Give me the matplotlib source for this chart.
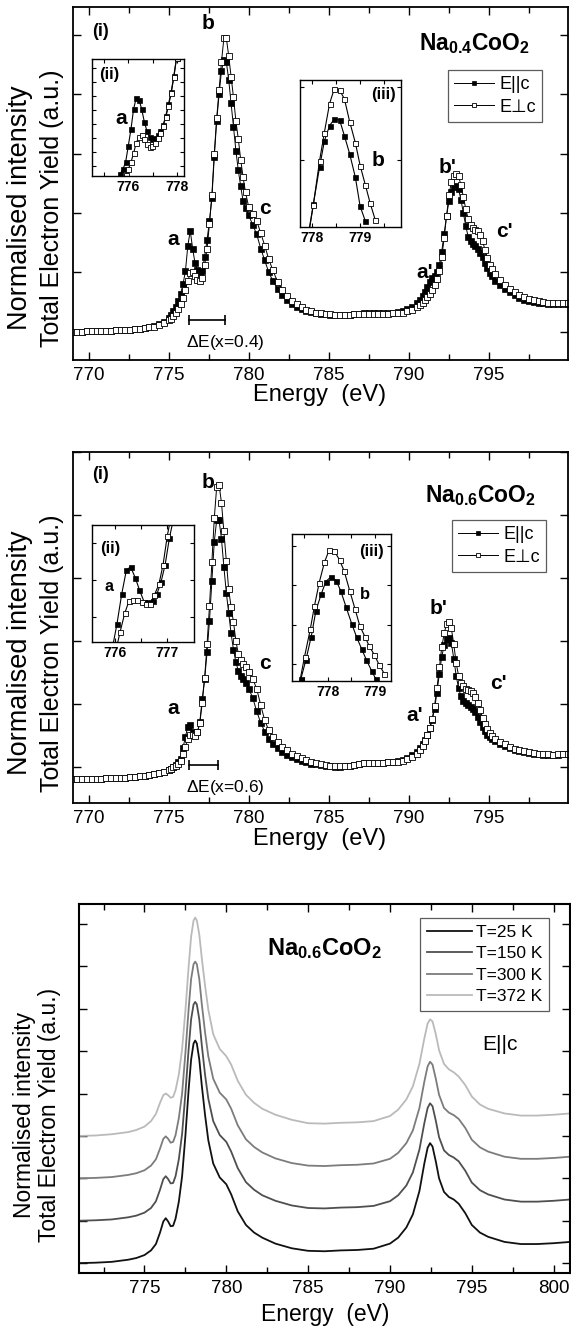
import matplotlib
matplotlib.use("Agg")
import matplotlib.pyplot as plt
from matplotlib.ticker import MultipleLocator, FixedLocator

plt.rcParams['font.family'] = ['Liberation Sans', 'DejaVu Sans']
plt.rcParams['mathtext.fontset'] = 'custom'
plt.rcParams['mathtext.rm'] = 'Liberation Sans'
plt.rcParams['mathtext.bf'] = 'Liberation Sans:bold'

# ---- data: panels (a) and (b), polarisation dependence ----
energy = [
    769.0, 769.3, 769.6, 769.9, 770.2, 770.5, 770.8, 771.1, 771.4, 771.7, 772.0, 772.3, 772.6, 772.9,
    773.2, 773.5, 773.8, 774.1, 774.4, 774.7, 775.0,
    775.15, 775.3, 775.45, 775.6, 775.75, 775.9, 776.05, 776.2, 776.35, 776.5, 776.65, 776.8, 776.95,
    777.1, 777.25, 777.4, 777.55, 777.7, 777.85, 778.0, 778.15, 778.3, 778.45, 778.6, 778.75, 778.9,
    779.05, 779.2, 779.35, 779.5, 779.65, 779.8,
    780.0, 780.25, 780.5, 780.75, 781.0, 781.25, 781.5, 781.8, 782.1, 782.4, 782.7, 783.0, 783.3, 783.6,
    783.9, 784.2, 784.5, 784.8, 785.1, 785.4, 785.7, 786.0, 786.3, 786.6, 786.9, 787.2, 787.5, 787.8,
    788.1, 788.4, 788.7, 789.0, 789.3, 789.6, 789.9, 790.2, 790.5,
    790.7, 790.85, 791.0, 791.15, 791.3, 791.45, 791.6, 791.75, 791.9, 792.05, 792.2, 792.35, 792.5,
    792.65, 792.8, 792.95, 793.1, 793.25, 793.4, 793.55, 793.7, 793.85, 794.0, 794.15, 794.3, 794.45,
    794.6, 794.75, 794.9, 795.05, 795.2,
    795.4, 795.7, 796.0, 796.3, 796.6, 796.9, 797.2, 797.5, 797.8, 798.1, 798.4, 798.7, 799.0, 799.3,
    799.6, 799.9,
]

na04_par = [
    0.00, 0.00, 0.00, 0.005, 0.005, 0.01, 0.01, 0.01, 0.015, 0.02, 0.02, 0.025, 0.03, 0.04, 0.045, 0.055,
    0.07, 0.09, 0.12, 0.16, 0.23,
    0.28, 0.34, 0.42, 0.52, 0.64, 0.80, 1.02, 1.45, 1.70, 1.40, 1.15, 1.03, 0.98, 1.02, 1.26, 1.55, 1.86,
    2.25, 2.95, 3.55, 4.00, 4.40, 4.58, 4.55, 4.25, 3.85, 3.45, 3.05, 2.72, 2.45, 2.20, 2.08,
    1.96, 1.80, 1.64, 1.40, 1.20, 1.00, 0.86, 0.72, 0.61, 0.53, 0.46, 0.41, 0.38, 0.35, 0.33, 0.31, 0.30,
    0.29, 0.28, 0.28, 0.28, 0.28, 0.28, 0.29, 0.30, 0.31, 0.31, 0.31, 0.31, 0.31, 0.31, 0.32, 0.33, 0.35,
    0.38, 0.42, 0.48,
    0.54, 0.60, 0.67, 0.75, 0.84, 0.90, 0.94, 1.00, 1.12, 1.35, 1.65, 1.95, 2.20, 2.35, 2.44, 2.46, 2.40,
    2.22, 2.00, 1.78, 1.60, 1.52, 1.48, 1.44, 1.40, 1.33, 1.25, 1.16, 1.07, 0.99, 0.93,
    0.86, 0.78, 0.71, 0.66, 0.61, 0.57, 0.54, 0.52, 0.50, 0.49, 0.48, 0.47, 0.47, 0.47, 0.47, 0.47,
]
na04_perp = [
    0.00, 0.00, 0.00, 0.005, 0.005, 0.01, 0.01, 0.01, 0.015, 0.02, 0.02, 0.025, 0.03, 0.04, 0.045, 0.055,
    0.07, 0.085, 0.11, 0.14, 0.19,
    0.22, 0.26, 0.31, 0.38, 0.46, 0.57, 0.70, 0.86, 0.98, 1.00, 0.93, 0.87, 0.86, 0.91, 1.12, 1.40, 1.82,
    2.30, 3.00, 3.60, 4.07, 4.55, 4.95, 4.96, 4.65, 4.30, 3.95, 3.55, 3.25, 2.90, 2.60, 2.35,
    2.10, 1.98, 1.87, 1.66, 1.45, 1.22, 1.04, 0.84, 0.70, 0.60, 0.52, 0.46, 0.41, 0.37, 0.34, 0.32, 0.31,
    0.30, 0.29, 0.28, 0.28, 0.28, 0.28, 0.29, 0.29, 0.30, 0.30, 0.30, 0.30, 0.30, 0.30, 0.31, 0.31, 0.32,
    0.34, 0.37, 0.41,
    0.45, 0.49, 0.54, 0.59, 0.64, 0.70, 0.78, 0.88, 1.02, 1.25, 1.58, 1.95, 2.30, 2.52, 2.63, 2.66, 2.62,
    2.47, 2.27, 2.07, 1.90, 1.80, 1.75, 1.72, 1.69, 1.63, 1.52, 1.38, 1.24, 1.13, 1.05,
    0.97, 0.87, 0.79, 0.72, 0.66, 0.62, 0.58, 0.55, 0.53, 0.51, 0.50, 0.49, 0.48, 0.48, 0.48, 0.48,
]
na06_par = [
    -0.20, -0.20, -0.20, -0.195, -0.195, -0.19, -0.19, -0.185, -0.18, -0.18, -0.175, -0.17, -0.165, -0.16,
    -0.15, -0.14, -0.13, -0.115, -0.10, -0.08, -0.05,
    -0.03, 0.00, 0.03, 0.07, 0.13, 0.30, 0.48, 0.64, 0.67, 0.55, 0.50, 0.55, 0.72, 1.08, 1.40, 1.82, 2.32,
    2.95, 3.58, 3.92, 3.92, 3.62, 3.18, 2.77, 2.44, 2.12, 1.86, 1.66, 1.53, 1.45, 1.39, 1.33,
    1.24, 1.10, 0.88, 0.70, 0.56, 0.45, 0.37, 0.30, 0.24, 0.19, 0.15, 0.12, 0.09, 0.07, 0.05, 0.04, 0.03,
    0.02, 0.01, 0.00, 0.00, 0.01, 0.02, 0.03, 0.05, 0.06, 0.06, 0.06, 0.06, 0.06, 0.07, 0.08, 0.09, 0.11,
    0.14, 0.18, 0.24,
    0.30, 0.36, 0.43, 0.51, 0.61, 0.74, 0.92, 1.18, 1.48, 1.75, 1.93, 2.03, 2.05, 1.97, 1.72, 1.45, 1.25,
    1.12, 1.05, 1.01, 0.98, 0.95, 0.92, 0.87, 0.80, 0.72, 0.64, 0.57, 0.51, 0.47, 0.44,
    0.41, 0.37, 0.33, 0.30, 0.27, 0.25, 0.23, 0.22, 0.21, 0.20, 0.19, 0.19, 0.19, 0.19, 0.20, 0.20,
]
na06_perp = [
    -0.20, -0.20, -0.20, -0.195, -0.195, -0.19, -0.19, -0.185, -0.18, -0.18, -0.175, -0.17, -0.165, -0.16,
    -0.15, -0.14, -0.13, -0.115, -0.10, -0.08, -0.05,
    -0.03, -0.01, 0.02, 0.05, 0.09, 0.20, 0.32, 0.45, 0.51, 0.50, 0.49, 0.55, 0.70, 1.02, 1.42, 1.95, 2.55,
    3.25, 3.95, 4.45, 4.48, 4.20, 3.75, 3.28, 2.82, 2.54, 2.30, 2.00, 1.80, 1.70, 1.64, 1.58,
    1.50, 1.40, 1.24, 0.98, 0.74, 0.58, 0.48, 0.39, 0.32, 0.26, 0.21, 0.17, 0.14, 0.11, 0.08, 0.06, 0.04,
    0.03, 0.02, 0.01, 0.01, 0.01, 0.02, 0.03, 0.05, 0.06, 0.06, 0.06, 0.06, 0.06, 0.07, 0.07, 0.08, 0.10,
    0.12, 0.16, 0.21,
    0.27, 0.33, 0.41, 0.50, 0.61, 0.76, 0.97, 1.25, 1.58, 1.90, 2.12, 2.27, 2.30, 2.20, 1.95, 1.65, 1.45,
    1.34, 1.28, 1.24, 1.22, 1.20, 1.17, 1.11, 1.02, 0.90, 0.78, 0.68, 0.60, 0.54, 0.49,
    0.45, 0.40, 0.36, 0.32, 0.29, 0.27, 0.25, 0.23, 0.22, 0.21, 0.20, 0.20, 0.19, 0.20, 0.20, 0.20,
]

# inset (ii) / (iii) readings, x = 0.4
ins04_a_e_par = [775.67, 775.78, 775.89, 776.00, 776.11, 776.22, 776.33, 776.44, 776.55, 776.66, 776.77,
                 776.88, 776.99, 777.10, 777.21, 777.32, 777.43, 777.54, 777.65, 777.76, 777.87, 777.98]
ins04_a_par = [0.59, 0.66, 0.76, 1.00, 1.25, 1.55, 1.72, 1.69, 1.55, 1.36, 1.22,
               1.14, 1.11, 1.12, 1.16, 1.22, 1.31, 1.45, 1.62, 1.80, 2.04, 2.30]
ins04_a_e_perp = [775.78, 775.89, 776.00, 776.11, 776.22, 776.33, 776.44, 776.55, 776.66, 776.77,
                  776.88, 776.99, 777.10, 777.21, 777.32, 777.43, 777.54, 777.65, 777.76, 777.87, 777.98]
ins04_a_perp = [0.52, 0.58, 0.66, 0.76, 0.90, 1.05, 1.14, 1.16, 1.10, 1.03,
                0.99, 1.00, 1.05, 1.12, 1.20, 1.30, 1.43, 1.60, 1.78, 2.02, 2.30]
ins04_b_e_par = [777.92, 778.02, 778.15, 778.25, 778.36, 778.46, 778.57, 778.67, 778.78, 778.90, 779.00, 779.11]
ins04_b_par = [3.15, 3.52, 3.99, 4.32, 4.52, 4.60, 4.59, 4.39, 4.16, 3.86, 3.49, 3.30]
ins04_b_e_perp = [777.92, 778.02, 778.15, 778.25, 778.36, 778.46, 778.57, 778.67, 778.78, 778.90, 779.00,
                  779.11, 779.21, 779.32]
ins04_b_perp = [3.13, 3.51, 4.07, 4.43, 4.80, 4.99, 4.97, 4.86, 4.57, 4.30, 4.01, 3.76, 3.53, 3.31]

# inset (ii) / (iii) readings, x = 0.6
ins06_a_e_par = [775.96, 776.04, 776.13, 776.22, 776.30, 776.39, 776.47, 776.56, 776.64, 776.72, 776.80,
                 776.88, 776.96, 777.04, 777.12]
ins06_a_par = [0.30, 0.40, 0.535, 0.645, 0.66, 0.61, 0.555, 0.50, 0.50, 0.505, 0.535, 0.59, 0.67, 0.79, 0.88]
ins06_a_e_perp = [776.02, 776.10, 776.19, 776.27, 776.35, 776.43, 776.51, 776.59, 776.67, 776.75, 776.84,
                  776.92, 777.00, 777.08]
ins06_a_perp = [0.28, 0.364, 0.45, 0.505, 0.51, 0.51, 0.50, 0.49, 0.49, 0.53, 0.58, 0.67, 0.80, 0.90]
ins06_b_e_par = [777.43, 777.54, 777.65, 777.75, 777.86, 777.96, 778.07, 778.18, 778.28, 778.39, 778.51,
                 778.61, 778.72, 778.82, 778.93, 779.02]
ins06_b_par = [1.89, 2.29, 2.75, 3.28, 3.61, 3.87, 3.97, 3.89, 3.67, 3.35, 3.01, 2.75, 2.50, 2.28, 2.06, 1.89]
ins06_b_e_perp = [777.40, 777.51, 777.63, 777.72, 777.82, 777.93, 778.03, 778.14, 778.25, 778.35, 778.47,
                  778.58, 778.68, 778.79, 778.88, 778.99, 779.09, 779.20]
ins06_b_perp = [1.80, 2.35, 2.90, 3.38, 3.85, 4.26, 4.51, 4.49, 4.31, 4.08, 3.67, 3.31, 2.97, 2.75, 2.56,
                2.38, 2.18, 2.00]

# energy shift bars
de04 = [776.3, 778.5]
de06 = [776.3, 778.1]

# ---- data: panel (c), temperature dependence, E||c ----
energy_t = [
    771.0, 772.0, 773.0, 774.0, 774.5, 775.0, 775.4, 775.7, 775.95, 776.15, 776.3, 776.45, 776.6, 776.75,
    776.9, 777.1, 777.3, 777.5, 777.7, 777.85, 778.0, 778.1, 778.2, 778.35, 778.5, 778.7, 778.9, 779.2,
    779.6, 780.0, 780.3, 780.7, 781.2, 781.7, 782.2, 783.0, 784.0, 785.0, 786.0, 787.0, 788.0, 789.0,
    790.0, 790.5, 791.0, 791.4, 791.8, 792.1, 792.3, 792.45, 792.6, 792.8, 793.0, 793.3, 793.6, 793.9,
    794.2, 794.6, 795.0, 795.5, 796.0, 797.0, 798.0, 799.0, 800.0, 801.0,
]
t25 = [0.00, 0.01, 0.03, 0.08, 0.12, 0.19, 0.30, 0.45, 0.72, 0.98, 1.06, 0.98, 0.87, 0.88, 1.05, 1.45,
       2.05, 3.00, 4.10, 4.80, 5.18, 5.25, 5.18, 4.80, 4.20, 3.50, 2.90, 2.35, 2.02, 1.86, 1.62, 1.22,
       0.90, 0.72, 0.60, 0.46, 0.35, 0.29, 0.28, 0.30, 0.31, 0.34, 0.46, 0.60, 0.84, 1.15, 1.70, 2.35,
       2.72, 2.83, 2.75, 2.40, 2.00, 1.68, 1.56, 1.50, 1.40, 1.18, 0.90, 0.72, 0.62, 0.50, 0.45, 0.45,
       0.47, 0.50]
t150 = [1.00, 1.01, 1.03, 1.08, 1.12, 1.19, 1.30, 1.46, 1.73, 1.98, 2.05, 1.98, 1.88, 1.89, 2.05, 2.45,
        3.05, 4.00, 5.05, 5.75, 6.10, 6.16, 6.10, 5.75, 5.15, 4.45, 3.88, 3.35, 3.02, 2.86, 2.63, 2.24,
        1.91, 1.73, 1.60, 1.47, 1.36, 1.30, 1.29, 1.31, 1.32, 1.35, 1.46, 1.60, 1.83, 2.14, 2.68, 3.30,
        3.66, 3.77, 3.70, 3.36, 2.97, 2.66, 2.55, 2.49, 2.40, 2.18, 1.90, 1.72, 1.62, 1.50, 1.45, 1.45,
        1.47, 1.50]
t300 = [2.00, 2.01, 2.03, 2.08, 2.12, 2.19, 2.30, 2.45, 2.70, 2.93, 2.99, 2.93, 2.84, 2.86, 3.02, 3.42,
        4.00, 4.95, 6.00, 6.70, 7.05, 7.11, 7.05, 6.70, 6.12, 5.45, 4.88, 4.35, 4.02, 3.86, 3.64, 3.25,
        2.92, 2.74, 2.61, 2.47, 2.36, 2.30, 2.29, 2.31, 2.32, 2.35, 2.46, 2.60, 2.83, 3.13, 3.66, 4.28,
        4.64, 4.75, 4.68, 4.35, 3.97, 3.66, 3.55, 3.49, 3.40, 3.19, 2.91, 2.73, 2.63, 2.51, 2.46, 2.46,
        2.48, 2.51]
t372 = [3.00, 3.01, 3.04, 3.09, 3.14, 3.22, 3.35, 3.52, 3.78, 3.96, 4.00, 3.96, 3.90, 3.92, 4.08, 4.45,
        5.05, 5.95, 7.00, 7.70, 8.08, 8.15, 8.08, 7.75, 7.20, 6.55, 5.98, 5.40, 5.05, 4.88, 4.68, 4.30,
        3.97, 3.78, 3.64, 3.50, 3.38, 3.30, 3.29, 3.31, 3.32, 3.35, 3.47, 3.62, 3.86, 4.17, 4.70, 5.30,
        5.65, 5.75, 5.70, 5.40, 5.02, 4.70, 4.57, 4.50, 4.40, 4.20, 3.93, 3.74, 3.64, 3.53, 3.48, 3.48,
        3.50, 3.53]
temp_labels = ['T=25 K', 'T=150 K', 'T=300 K', 'T=372 K']
temp_colors = ['#111111', '#4f4f4f', '#7c7c7c', '#bababa']

W, H = 571, 1338
fig = plt.figure(figsize=(W / 100, H / 100), dpi=100)


def add_ax(l, t, r, b):
    return fig.add_axes([l / W, 1 - b / H, (r - l) / W, (b - t) / H])


def style_main(ax, xlim, ylim, yticks):
    ax.set_xlim(*xlim)
    ax.set_ylim(*ylim)
    ax.xaxis.set_major_locator(MultipleLocator(5))
    ax.xaxis.set_minor_locator(MultipleLocator(2.5))
    ax.yaxis.set_major_locator(FixedLocator(yticks))
    ax.tick_params(which='both', direction='in', top=True, right=True, labelleft=False,
                   labelsize=13.5, width=1.0, pad=5)
    ax.tick_params(which='major', length=6)
    ax.tick_params(which='minor', length=4)
    for s in ax.spines.values():
        s.set_linewidth(1.3)


def plot_pair(ax, xpar, ypar, xperp, yperp, ms=3.7, lw=0.7):
    ax.plot(xpar, ypar, '-s', color='black', mfc='black', mec='black', ms=ms, mew=0.5, lw=lw,
            label='E||c')
    ax.plot(xperp, yperp, '-s', color='black', mfc='white', mec='black', ms=ms, mew=0.6, lw=lw,
            label='E⊥c')


def style_inset(ax, xlim, ylim, xmaj, xmin, yticks):
    ax.set_xlim(*xlim)
    ax.set_ylim(*ylim)
    ax.xaxis.set_major_locator(FixedLocator(xmaj))
    ax.xaxis.set_minor_locator(FixedLocator(xmin))
    ax.yaxis.set_major_locator(FixedLocator(yticks))
    ax.tick_params(which='both', direction='in', top=True, right=True, labelleft=False,
                   length=3, width=0.8, labelsize=10, pad=3)
    ax.set_xticklabels([f'{v:g}' for v in xmaj], fontweight='bold')
    for s in ax.spines.values():
        s.set_linewidth(1.0)


def ylabel_lines(yc, x1, x2, size1, size2):
    fig.text(x1 / W, 1 - yc / H, 'Normalised intensity', rotation=90, ha='center', va='center',
             fontsize=size1)
    fig.text(x2 / W, 1 - yc / H, 'Total Electron Yield (a.u.)', rotation=90, ha='center', va='center',
             fontsize=size2)


def de_bar(ax, xs, y, text, ty):
    ax.plot(xs, [y, y], color='black', lw=1.2, marker='|', ms=7, mew=1.2)
    ax.text(xs[0] - 0.2, ty, text, ha='left', va='center', fontsize=12.5)


name_kw = dict(ha='center', va='center', fontsize=16.5)
pk_kw = dict(ha='center', va='center', fontsize=15, fontweight='bold')

# ---------------- panel 1: Na0.4CoO2 ----------------
ax1 = add_ax(72.5, 7.3, 567.5, 360)
plot_pair(ax1, energy, na04_par, energy, na04_perp)
style_main(ax1, (769, 799.9), (-0.48, 5.47), [0, 1, 2, 3, 4, 5])
de_bar(ax1, de04, 0.19, r'$\Delta$E(x=0.4)', -0.19)
ax1.text(0.04, 0.93, '(i)', transform=ax1.transAxes, ha='left', va='center', fontsize=13,
         fontweight='bold')
ax1.text(777.47, 5.2, 'b', **pk_kw)
ax1.text(775.31, 1.56, 'a', **pk_kw)
ax1.text(781.0, 2.08, 'c', **pk_kw)
ax1.text(792.4, 2.77, "b'", **pk_kw)
ax1.text(791.0, 0.99, "a'", **pk_kw)
ax1.text(795.95, 1.69, "c'", **pk_kw)
ax1.text(794.1, 4.86, r'$\mathbf{Na_{0.4}CoO_{2}}$', **name_kw)
leg = ax1.legend(loc='upper right', bbox_to_anchor=(0.9485, 0.822), borderaxespad=0, fontsize=13,
                 fancybox=False, edgecolor='#333333', handlelength=2.2, handletextpad=0.3,
                 borderpad=0.35, labelspacing=0.3, markerscale=0.85)
leg.get_frame().set_linewidth(0.9)
fig.text(320 / W, 1 - 395 / H, 'Energy  (eV)', ha='center', va='center', fontsize=17)
ylabel_lines(208, 20, 52, 19.5, 18)

ia = add_ax(91.7, 59, 184.3, 176)
plot_pair(ia, ins04_a_e_par, ins04_a_par, ins04_a_e_perp, ins04_a_perp, ms=3.6, lw=0.8)
style_inset(ia, (774.5, 778.3), (0.56, 2.29), [776, 778], [775, 777],
            [0.71, 0.92, 1.12, 1.33, 1.54, 1.74, 1.95, 2.16])
ia.text(0.08, 0.87, '(ii)', transform=ia.transAxes, ha='left', va='center', fontsize=12,
        fontweight='bold')
ia.text(775.73, 1.41, 'a', **pk_kw)

ib = add_ax(300, 80, 400.7, 226.7)
plot_pair(ib, ins04_b_e_par, ins04_b_par, ins04_b_e_perp, ins04_b_perp, ms=3.6, lw=0.8)
style_inset(ib, (777.74, 779.85), (3.23, 5.10), [778, 779], [778.5, 779.5], [4.08, 5.01])
ib.text(0.95, 0.9, '(iii)', transform=ib.transAxes, ha='right', va='center', fontsize=12,
        fontweight='bold')
ib.text(779.38, 4.08, 'b', **pk_kw)

# ---------------- panel 2: Na0.6CoO2 ----------------
ax2 = add_ax(72.5, 451.7, 567.5, 803.3)
plot_pair(ax2, energy, na06_par, energy, na06_perp)
style_main(ax2, (769, 799.9), (-0.58, 5.01), [0, 1, 2, 3, 4, 5])
de_bar(ax2, de06, 0.03, r'$\Delta$E(x=0.6)', -0.33)
ax2.text(0.04, 0.934, '(i)', transform=ax2.transAxes, ha='left', va='center', fontsize=13,
         fontweight='bold')
ax2.text(777.47, 4.52, 'b', **pk_kw)
ax2.text(775.27, 0.93, 'a', **pk_kw)
ax2.text(781.03, 1.64, 'c', **pk_kw)
ax2.text(791.85, 2.51, "b'", **pk_kw)
ax2.text(790.36, 0.82, "a'", **pk_kw)
ax2.text(795.6, 1.32, "c'", **pk_kw)
ax2.text(794.5, 4.31, r'$\mathbf{Na_{0.6}CoO_{2}}$', **name_kw)
leg = ax2.legend(loc='upper right', bbox_to_anchor=(0.9566, 0.806), borderaxespad=0, fontsize=13,
                 fancybox=False, edgecolor='#333333', handlelength=2.2, handletextpad=0.3,
                 borderpad=0.35, labelspacing=0.3, markerscale=0.85)
leg.get_frame().set_linewidth(0.9)
fig.text(320 / W, 1 - 839 / H, 'Energy  (eV)', ha='center', va='center', fontsize=17)
ylabel_lines(653, 20, 52, 19.5, 18)

ic = add_ax(92.3, 525, 194, 641.7)
plot_pair(ic, ins06_a_e_par, ins06_a_par, ins06_a_e_perp, ins06_a_perp, ms=3.6, lw=0.8)
style_inset(ic, (775.57, 777.51), (0.32, 0.85), [776, 777], [776.5], [0.43, 0.60, 0.77])
ic.text(0.08, 0.8, '(ii)', transform=ic.transAxes, ha='left', va='center', fontsize=12,
        fontweight='bold')
ic.text(775.89, 0.57, 'a', ha='center', va='center', fontsize=11.5, fontweight='bold')

idd = add_ax(292.3, 534.3, 391, 680.7)
plot_pair(idd, ins06_b_e_par, ins06_b_par, ins06_b_e_perp, ins06_b_perp, ms=3.6, lw=0.8)
style_inset(idd, (777.25, 779.34), (1.86, 4.83), [778, 779], [777.5, 778.5], [2.2, 3.0, 3.8, 4.6])
idd.text(0.93, 0.88, '(iii)', transform=idd.transAxes, ha='right', va='center', fontsize=12,
         fontweight='bold')
idd.text(778.79, 3.6, 'b', ha='center', va='center', fontsize=12, fontweight='bold')

# ---------------- panel 3: temperature dependence ----------------
ax3 = add_ax(79, 904, 570, 1273.3)
for ys, lab, col in zip([t25, t150, t300, t372], temp_labels, temp_colors):
    ax3.plot(energy_t, ys, color=col, lw=1.3, label=lab)
style_main(ax3, (771, 801), (-0.24, 8.47), list(range(9)))
for s in ax3.spines.values():
    s.set_linewidth(1.5)
ax3.text(786.0, 7.43, r'$\mathbf{Na_{0.6}CoO_{2}}$', ha='center', va='center', fontsize=17)
ax3.text(796.7, 5.15, 'E||c', ha='center', va='center', fontsize=15)
leg = ax3.legend(loc='upper right', bbox_to_anchor=(0.957, 0.962), borderaxespad=0, fontsize=12.5,
                 fancybox=False, edgecolor='#333333', handlelength=2.6, handletextpad=0.2,
                 borderpad=0.4, labelspacing=0.35)
leg.get_frame().set_linewidth(0.9)
fig.text(325 / W, 1 - 1314 / H, 'Energy  (eV)', ha='center', va='center', fontsize=16.5)
ylabel_lines(1115, 25, 50, 16.5, 16.5)

fig.savefig('out.png', dpi=100)
